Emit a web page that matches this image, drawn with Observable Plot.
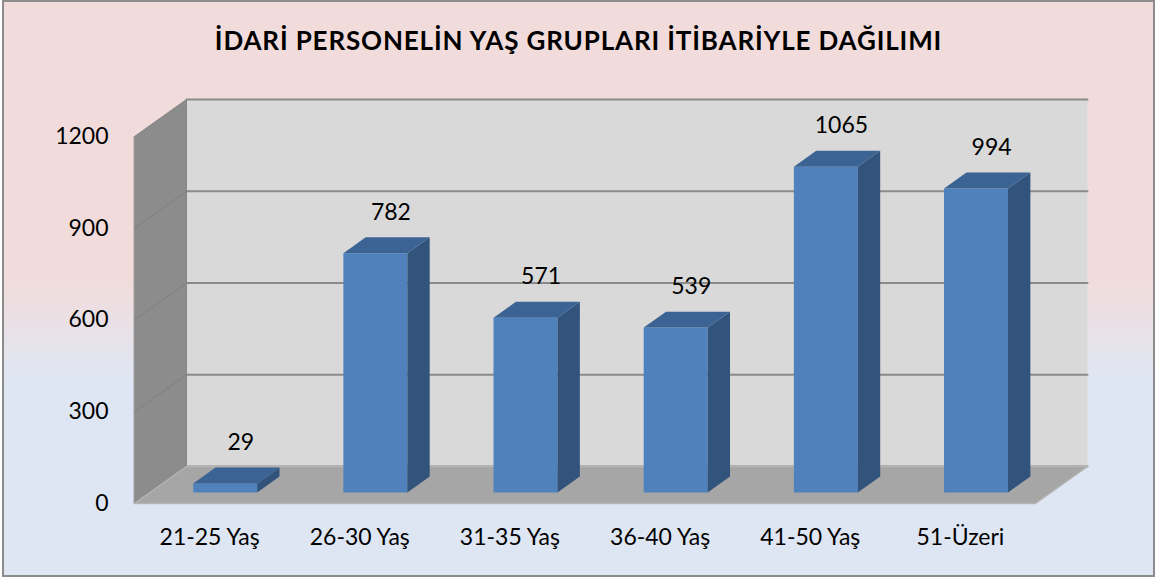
<!DOCTYPE html>
<html>
<head>
<meta charset="utf-8">
<script src="https://cdn.jsdelivr.net/npm/d3@7"></script>
<script src="https://cdn.jsdelivr.net/npm/@observablehq/plot@0.6"></script>
<style>
  html, body { margin: 0; padding: 0; background: #fff; }
  #frame {
    position: absolute; left: 2px; top: 0px; width: 1153px; height: 577px;
    box-sizing: border-box; border: 2px solid #8c8c8c;
    background: linear-gradient(to bottom, #f2dcdb 0%, #f2dcdb 48%, #dfe6f3 66%, #dfe6f3 100%);
    overflow: hidden;
  }
  #title {
    position: absolute; left: 0; top: 25px; width: 1157px; text-align: center;
    font-family: Lato, "Open Sans", sans-serif; font-weight: bold; font-size: 26px;
    letter-spacing: 0.85px; line-height: 30px; color: #000;
  }
  #chart { position: absolute; left: 0; top: 0; }
</style>
</head>
<body>
<div id="frame"></div>
<div id="title"></div>
<div id="chart"></div>
<script>
// ---- data ----
const title = "İDARİ PERSONELİN YAŞ GRUPLARI İTİBARİYLE DAĞILIMI";
const categories = ["21-25 Yaş", "26-30 Yaş", "31-35 Yaş", "36-40 Yaş", "41-50 Yaş", "51-Üzeri"];
const values = [29, 782, 571, 539, 1065, 994];
const yTicks = [0, 300, 600, 900, 1200];

// ---- 3D projection geometry (in data units) ----
const X0 = -0.5, X1 = categories.length - 0.5;
const YMAX = yTicks[yTicks.length - 1];
const DX = 0.3463;   // x shift (category units) for full depth
const DY = 121;      // y shift (value units) for full depth
const HALF = 0.213;  // half bar width
const DF = 0.30, DB = 0.73; // bar front/back depth
const P = (x, y, d) => ({x: x + DX * d, y: y + DY * d});
const poly = (id, pts) => pts.map(([x, y, d]) => ({id, ...P(x, y, d)}));

const backWall = poly("bw", [[X0, 0, 1], [X1, 0, 1], [X1, YMAX, 1], [X0, YMAX, 1]]);
const leftWall = poly("lw", [[X0, 0, 0], [X0, 0, 1], [X0, YMAX, 1], [X0, YMAX, 0]]);
const floor = poly("fl", [[X0, 0, 0], [X1, 0, 0], [X1, 0, 1], [X0, 0, 1]]);
const backGrid = yTicks.flatMap(v => poly("g" + v, [[X0, v, 1], [X1, v, 1]]));
const leftGrid = yTicks.filter(v => v > 0 && v < YMAX).flatMap(v => poly("l" + v, [[X0, v, 0], [X0, v, 1]]));

const fronts = values.flatMap((v, i) => poly("f" + i, [[i - HALF, 0, DF], [i + HALF, 0, DF], [i + HALF, v, DF], [i - HALF, v, DF]]));
const sides = values.flatMap((v, i) => poly("s" + i, [[i + HALF, 0, DF], [i + HALF, 0, DB], [i + HALF, v, DB], [i + HALF, v, DF]]));
const tops = values.flatMap((v, i) => poly("t" + i, [[i - HALF, v, DF], [i + HALF, v, DF], [i + HALF, v, DB], [i - HALF, v, DB]]));

const face = (data, fill, stroke, sw = 1) => Plot.line(data, {x: "x", y: "y", z: "id", fill, stroke, strokeWidth: sw, curve: "linear-closed"});
const seg = (data, stroke, sw) => Plot.line(data, {x: "x", y: "y", z: "id", stroke, strokeWidth: sw});

document.getElementById("title").textContent = title;

const chart = Plot.plot({
  width: 1157,
  height: 577,
  marginLeft: 134,
  marginRight: 122,
  marginTop: 136,
  marginBottom: 74,
  style: {fontFamily: "Lato, 'Open Sans', sans-serif", fontSize: "23px", color: "#000", background: "transparent", overflow: "visible"},
  x: {type: "linear", domain: [X0, X1], label: null},
  y: {domain: [0, YMAX], label: null},
  marks: [
    face(backWall, "#d9d9d9", "none"),
    seg(backGrid, "#8a8a8a", 2),
    face(leftWall, "#8c8c8c", "#858585"),
    seg(leftGrid, "#808080", 1),
    face(floor, "#a6a6a6", "#b4b4b4", 1.5),
    face(fronts, "#4f81bd", "none"),
    face(sides, "#32547c", "none"),
    face(tops, "#3b6494", "none"),
    Plot.text(values, {x: (d, i) => i + DX * 0.6, y: d => d + DY * DB, text: d => String(d), dy: -25, fontSize: 23, fill: "#000"}),
    Plot.axisY({ticks: yTicks, tickFormat: d => String(d), tickSize: 0, tickPadding: 26, label: null, fontSize: 23, fill: "#000"}),
    Plot.axisX({ticks: categories.map((_, i) => i), tickFormat: i => categories[i], tickSize: 0, tickPadding: 25, label: null, fontSize: 23, fill: "#000"})
  ]
});
document.getElementById("chart").appendChild(chart);
</script>
</body>
</html>
